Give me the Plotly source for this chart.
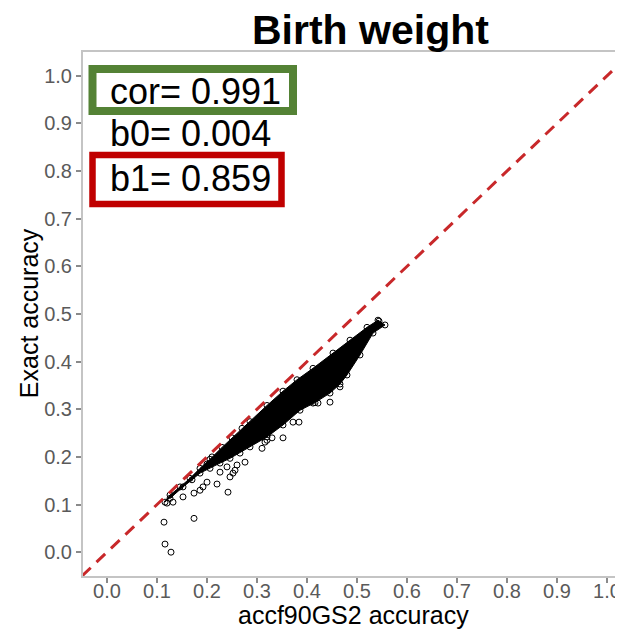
import plotly.graph_objects as go

# ---------------- data ----------------
TITLE = "Birth weight"
X_TITLE = "accf90GS2 accuracy"
Y_TITLE = "Exact accuracy"
TICK_VALS = [0.0, 0.1, 0.2, 0.3, 0.4, 0.5, 0.6, 0.7, 0.8, 0.9, 1.0]
TICK_TEXT = ["0.0", "0.1", "0.2", "0.3", "0.4", "0.5", "0.6", "0.7", "0.8", "0.9", "1.0"]

STATS_LABELS = ["cor= 0.991", "b0= 0.004", "b1= 0.859"]

# identity (y = x) reference line endpoints
ABLINE_X = [-0.05, 1.05]
ABLINE_Y = [-0.05, 1.05]

# outline of the dense black cloud of points (upper edge, then lower edge back)
CLOUD_UPPER_X = [0.116, 0.126, 0.146, 0.166, 0.186, 0.206, 0.23, 0.25, 0.27, 0.286, 0.32, 0.352, 0.38, 0.412, 0.452, 0.486, 0.52, 0.542]
CLOUD_UPPER_Y = [0.105, 0.12, 0.137, 0.155, 0.176, 0.195, 0.22, 0.24, 0.26, 0.274, 0.308, 0.338, 0.362, 0.386, 0.418, 0.445, 0.472, 0.487]
CLOUD_LOWER_X = [0.556, 0.532, 0.506, 0.48, 0.466, 0.446, 0.416, 0.386, 0.352, 0.32, 0.286, 0.266, 0.246, 0.226, 0.206, 0.186, 0.17, 0.152, 0.126]
CLOUD_LOWER_Y = [0.477, 0.46, 0.414, 0.372, 0.353, 0.334, 0.314, 0.298, 0.267, 0.242, 0.221, 0.208, 0.197, 0.187, 0.176, 0.166, 0.152, 0.137, 0.113]

# individual points visible outside the dense cloud
OUT_X = [0.114, 0.116, 0.128, 0.174, 0.242, 0.22, 0.186, 0.174, 0.192, 0.2, 0.246, 0.252, 0.256, 0.26,
         0.276, 0.31, 0.316, 0.33, 0.132, 0.152, 0.12, 0.226, 0.24, 0.32, 0.352, 0.372, 0.384, 0.412,
         0.422, 0.446, 0.466, 0.544, 0.2, 0.21]
OUT_Y = [0.063, 0.017, 0.0, 0.071, 0.126, 0.143, 0.13, 0.124, 0.137, 0.147, 0.158, 0.166, 0.172, 0.183,
         0.189, 0.218, 0.231, 0.24, 0.105, 0.116, 0.103, 0.168, 0.179, 0.235, 0.24, 0.273, 0.273, 0.313,
         0.313, 0.315, 0.347, 0.485, 0.185, 0.2]

# ---------------- layout helpers ----------------
# the page body has an 8px default margin, so the figure starts at (8, 8) in the window
OX, OY = 8, 8
W, H = 623 - OX, 630 - OY
ML, MR, MT, MB = 83 - OX, 0, 52 - OY, 630 - 575.6
PW, PH = W - ML - MR, H - MT - MB


def px_x(px):
    return (px - OX - ML) / PW


def px_y(py):
    return (H - MB - (py - OY)) / PH


FONT = "Liberation Sans, Arial, Helvetica, sans-serif"

fig = go.Figure()

# dense cloud
cx = CLOUD_UPPER_X + CLOUD_LOWER_X
cy = CLOUD_UPPER_Y + CLOUD_LOWER_Y
fig.add_trace(go.Scatter(x=cx, y=cy, mode="lines", fill="toself", fillcolor="black",
                         line=dict(color="black", width=1), hoverinfo="skip", showlegend=False))
fig.add_trace(go.Scatter(x=cx, y=cy, mode="markers",
                         marker=dict(symbol="circle-open", size=6, color="black", line=dict(width=1)),
                         showlegend=False))
fig.add_trace(go.Scatter(x=OUT_X, y=OUT_Y, mode="markers",
                         marker=dict(symbol="circle-open", size=6, color="black", line=dict(width=1)),
                         showlegend=False))

# identity line
fig.add_trace(go.Scatter(x=ABLINE_X, y=ABLINE_Y, mode="lines",
                         line=dict(color="#c8282a", width=3, dash="12px,8px"),
                         hoverinfo="skip", showlegend=False))

axis_common = dict(
    tickvals=TICK_VALS, ticktext=TICK_TEXT, showgrid=False, zeroline=False,
    showline=True, linecolor="#c4c4c4", linewidth=2,
    ticks="outside", ticklen=5, tickwidth=1.5, tickcolor="#8a8a8a",
    tickfont=dict(family=FONT, size=20, color="#5a5a5a"),
)
fig.update_xaxes(range=[-0.048, 1.032], mirror=True, ticklabelstandoff=-9, **axis_common)
fig.update_yaxes(range=[-0.05, 1.05], **axis_common)

shapes = [
    dict(type="rect", xref="paper", yref="paper",
         x0=px_x(92.5), x1=px_x(293), y0=px_y(69), y1=px_y(111),
         line=dict(color="#548235", width=8), fillcolor="rgba(0,0,0,0)"),
    dict(type="rect", xref="paper", yref="paper",
         x0=px_x(92.5), x1=px_x(281.5), y0=px_y(155), y1=px_y(204),
         line=dict(color="#c00000", width=6.5), fillcolor="rgba(0,0,0,0)"),
]

annotations = [
    dict(text="<b>" + TITLE + "</b>", xref="paper", yref="paper", x=px_x(370), y=px_y(30), showarrow=False,
         xanchor="center", yanchor="middle", font=dict(family=FONT, size=41, color="black")),
    dict(text=X_TITLE, xref="paper", yref="paper", x=px_x(353), y=px_y(615), showarrow=False,
         xanchor="center", yanchor="middle", font=dict(family=FONT, size=25, color="black")),
    dict(text=Y_TITLE, xref="paper", yref="paper", x=px_x(29), y=px_y(313), showarrow=False,
         textangle=-90, xanchor="center", yanchor="middle", font=dict(family=FONT, size=25, color="black")),
]
for label, py in zip(STATS_LABELS, [91, 133, 178]):
    annotations.append(dict(text=label, xref="paper", yref="paper", x=px_x(108), y=px_y(py),
                            showarrow=False, xanchor="left", yanchor="middle",
                            font=dict(family=FONT, size=36, color="black")))

fig.update_layout(
    width=W, height=H, margin=dict(l=ML, r=MR, t=MT, b=MB),
    paper_bgcolor="white", plot_bgcolor="white",
    shapes=shapes, annotations=annotations, showlegend=False,
)

fig.write_html("out.html")
